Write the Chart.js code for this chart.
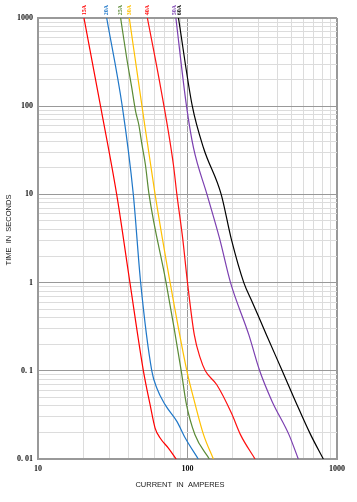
<!DOCTYPE html>
<html><head><meta charset="utf-8">
<script src="https://cdn.jsdelivr.net/npm/chart.js@4.4.1/dist/chart.umd.min.js"></script>
<style>html,body{margin:0;padding:0;background:#fff;}#wrap{width:357px;height:502px;position:relative}</style>
</head><body><div id="wrap"><canvas id="c" width="357" height="502"></canvas></div>
<script>
// ---- data ----
const seriesNames = ['15A','20A','25A','30A','40A','50A','60A'];

const amps15 = [20.3, 26.2, 33.6, 41.2, 50.7, 56.2, 60.7, 65.6, 74.5, 84];
const secs15 = [1000, 100, 10, 1, 0.1, 0.0413, 0.0224, 0.0173, 0.0133, 0.01];

const amps20 = [28.8, 36.6, 43.4, 48.6, 57.7, 62.3, 70.8, 84.9, 96.6, 118];
const secs20 = [1000, 100, 10, 1, 0.1, 0.0638, 0.0413, 0.0267, 0.0173, 0.01];

const amps25 = [35.7, 39.2, 42.4, 45.0, 47.2, 49.6, 52.3, 55.3, 71.9, 90.8, 98, 112, 140];
const secs25 = [1000, 352, 161, 87, 62, 36.6, 21.7, 10, 1, 0.1, 0.043, 0.019, 0.01];

const amps30 = [40.8, 49.6, 60.7, 76.5, 99, 112, 128, 149];
const secs30 = [1000, 100, 10, 1, 0.1, 0.043, 0.0189, 0.01];

const amps40 = [53.9, 65, 80.5, 84.9, 92.9, 100, 111, 121.6, 131.5, 157, 197, 226, 283];
const secs40 = [1000, 191, 21.7, 10, 3.15, 1, 0.257, 0.14, 0.1, 0.0695, 0.033, 0.0189, 0.01];

const amps50 = [83.6, 98.5, 109.7, 135, 164, 194, 257, 304, 368, 477, 551];
const secs50 = [1000, 100, 33.6, 10, 3.15, 1, 0.257, 0.1, 0.045, 0.0189, 0.01];

const amps60 = [87, 107.7, 128, 168, 196, 238, 270, 337, 430, 528, 666, 810];
const secs60 = [1000, 100, 33.6, 10, 3.15, 1, 0.612, 0.257, 0.1, 0.045, 0.0189, 0.01];

const xTickValues = [10, 100, 1000];
const xTickLabels = ['10', '100', '1000'];
const yTickValues = [0.01, 0.1, 1, 10, 100, 1000];
const yTickLabels = ['0. 01', '0. 1', '1', '10', '100', '1000'];
const xTitle = 'CURRENT  IN  AMPERES';
const yTitle = 'TIME  IN  SECONDS';

// ---- styles ----
const seriesColors = ['#ff0000', '#1f77c8', '#5a8a35', '#ffc000', '#ff1010', '#7b3fb0', '#000000'];

const allAmps = [amps15, amps20, amps25, amps30, amps40, amps50, amps60];
const allSecs = [secs15, secs20, secs25, secs30, secs40, secs50, secs60];

const datasets = seriesNames.map((name, i) => ({
  label: name,
  data: allAmps[i].map((a, k) => ({x: a, y: allSecs[i][k]})),
  borderColor: seriesColors[i],
  backgroundColor: seriesColors[i],
  borderWidth: 1.2,
  pointRadius: 0,
  showLine: true,
  cubicInterpolationMode: 'monotone',
  fill: false
}));

function logTicks(min, max) {
  const t = [];
  for (let e = Math.round(Math.log10(min)); e < Math.round(Math.log10(max)); e++) {
    for (let m = 1; m <= 9; m++) t.push({value: +(m * Math.pow(10, e)).toPrecision(6)});
  }
  t.push({value: max});
  return t;
}
function isMajor(v) {
  const l = Math.log10(v);
  return Math.abs(l - Math.round(l)) < 1e-6;
}
function labelFor(v, vals, labels) {
  for (let i = 0; i < vals.length; i++) if (Math.abs(v - vals[i]) / vals[i] < 1e-6) return labels[i];
  return '';
}

const tickFont = {family: '"Liberation Serif", "Times New Roman", serif', size: 8, weight: 'bold'};

const overlay = {
  id: 'overlay',
  afterDraw(chart) {
    const c = chart.ctx;
    const xs = chart.scales.x;
    c.save();
    const px = allAmps.map(a => xs.getPixelForValue(a[0]));
    for (let i = 1; i < px.length; i++) {
      if (px[i] - px[i - 1] < 5) {
        const mid = (px[i] + px[i - 1]) / 2;
        px[i - 1] = mid - 2.5; px[i] = mid + 2.5;
      }
    }
    c.font = 'bold 6px "Liberation Serif", serif';
    c.textAlign = 'center';
    c.textBaseline = 'middle';
    seriesNames.forEach((n, i) => {
      c.save();
      c.translate(px[i], 10);
      c.rotate(-Math.PI / 2);
      c.fillStyle = seriesColors[i];
      c.fillText(n, 0, 0);
      c.restore();
    });
    c.fillStyle = '#222';
    c.font = '7.5px "Liberation Sans", Arial, sans-serif';
    c.fillText(xTitle, 180, 485);
    c.translate(8.5, 230);
    c.rotate(-Math.PI / 2);
    c.fillText(yTitle, 0, 0);
    c.restore();
  }
};

const gridOpts = {
  drawTicks: false,
  color: ctx => (ctx.tick && isMajor(ctx.tick.value)) ? '#999999' : '#dcdcdc',
  lineWidth: ctx => (ctx.tick && (ctx.tick.value === 1000)) ? 2 : 1
};

new Chart(document.getElementById('c'), {
  type: 'scatter',
  data: {datasets},
  options: {
    responsive: false,
    animation: false,
    devicePixelRatio: 1,
    layout: {padding: {top: 18, right: 20, left: 0, bottom: 0}},
    plugins: {legend: {display: false}, tooltip: {enabled: false}},
    scales: {
      x: {
        type: 'logarithmic', min: 10, max: 1000,
        afterBuildTicks: s => { s.ticks = logTicks(10, 1000); },
        afterFit: s => { s.height = 43; },
        grid: gridOpts,
        border: {color: '#999', width: 2},
        ticks: {
          autoSkip: false, maxRotation: 0, minRotation: 0, padding: 5,
          color: '#111', font: tickFont,
          callback: v => labelFor(v, xTickValues, xTickLabels)
        }
      },
      y: {
        type: 'logarithmic', min: 0.01, max: 1000,
        afterBuildTicks: s => { s.ticks = logTicks(0.01, 1000); },
        afterFit: s => { s.width = 38; },
        grid: gridOpts,
        border: {color: '#999', width: 2},
        ticks: {
          autoSkip: false, padding: 5,
          color: '#111', font: tickFont,
          callback: v => labelFor(v, yTickValues, yTickLabels)
        }
      }
    }
  },
  plugins: [overlay]
});
</script></body></html>
